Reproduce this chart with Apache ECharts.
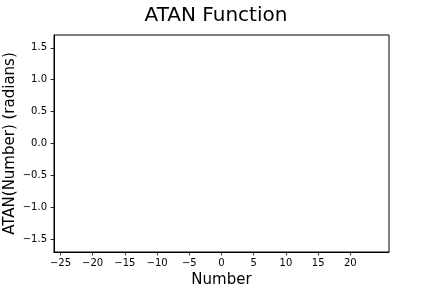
<!DOCTYPE html>
<html><head><meta charset="utf-8">
<script src="https://cdn.jsdelivr.net/npm/echarts@6/dist/echarts.min.js"></script>
<style>html,body{margin:0;padding:0;background:#fff}#c{width:432px;height:288px}</style>
</head><body><div id="c"></div>
<script>
// Data (the reference plot area is empty: no visible series)
const xValues = [];
const yValues = [];
const xTicks = [-25, -20, -15, -10, -5, 0, 5, 10, 15, 20];
const yTicks = [-1.5, -1.0, -0.5, 0.0, 0.5, 1.0, 1.5];
const xRange = [-26, 26];
const yRange = [-1.7, 1.7];

const fmt = v => String(v).replace('-', '\u2212');
const fmtY = v => v.toFixed(1).replace('-', '\u2212');
const font = 'DejaVu Sans';
const chart = echarts.init(document.getElementById('c'), null, {renderer: 'canvas'});
chart.setOption({
  animation: false,
  title: {text: 'ATAN Function', left: 'center', top: 1,
    textStyle: {fontFamily: font, fontSize: 20, fontWeight: 'normal', color: '#000'}},
  grid: {left: 54, right: 43, top: 35, bottom: 36, containLabel: false, outerBoundsMode: 'none',
    show: true, borderColor: '#000', borderWidth: 1, backgroundColor: '#fff'},
  xAxis: {type: 'value', min: xRange[0], max: xRange[1],
    name: 'Number', nameLocation: 'middle', nameGap: 21, nameMoveOverlap: false,
    nameTextStyle: {fontFamily: font, fontSize: 15, color: '#000'},
    axisLine: {show: true, onZero: false, lineStyle: {color: '#000', width: 1}},
    axisTick: {show: true, length: 3.5, customValues: xTicks, lineStyle: {color: '#000', width: 0.8}},
    axisLabel: {customValues: xTicks, formatter: fmt, margin: 6, fontFamily: font, fontSize: 10, color: '#000'},
    splitLine: {show: false}},
  yAxis: {type: 'value', min: yRange[0], max: yRange[1],
    name: 'ATAN(Number) (radians)', nameLocation: 'middle', nameGap: 36, nameMoveOverlap: false,
    nameTextStyle: {fontFamily: font, fontSize: 15, color: '#000'},
    axisLine: {show: true, onZero: false, lineStyle: {color: '#000', width: 1}},
    axisTick: {show: true, length: 3.5, customValues: yTicks, lineStyle: {color: '#000', width: 0.8}},
    axisLabel: {customValues: yTicks, formatter: fmtY, margin: 7, fontFamily: font, fontSize: 10, color: '#000'},
    splitLine: {show: false}},
  series: [{type: 'line', data: xValues.map((x, i) => [x, yValues[i]]), showSymbol: false,
    lineStyle: {color: '#1f77b4', width: 1.5}}]
});
</script></body></html>
